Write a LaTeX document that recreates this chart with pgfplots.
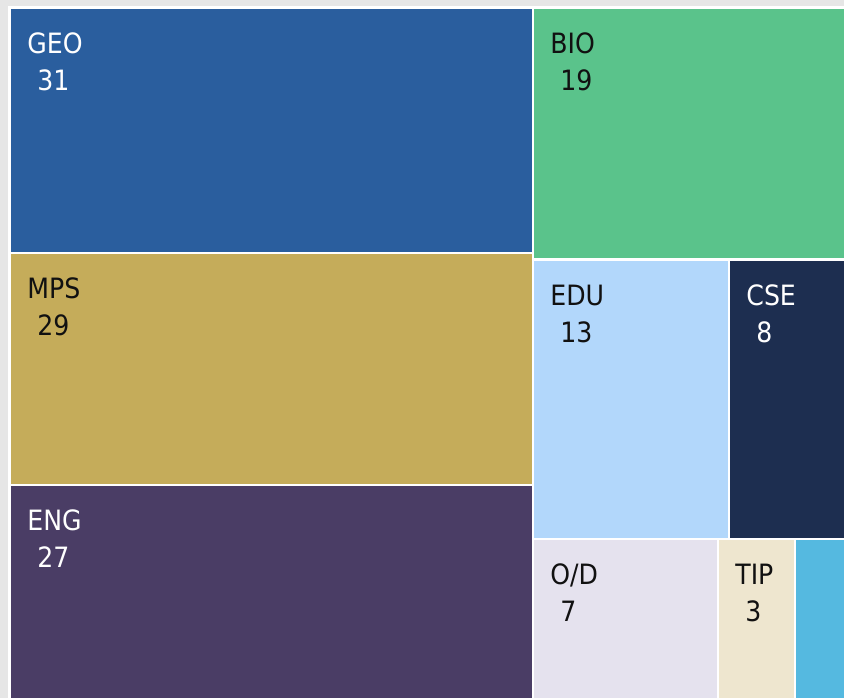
\documentclass[border=0pt]{standalone}
\usepackage{pgfplots}
\pgfplotsset{compat=1.18}
\usepackage{fontspec}
\setmainfont{DejaVu Sans Condensed}
\definecolor{bg}{HTML}{E6E6E6}
\definecolor{cGEO}{HTML}{2A5E9E}
\definecolor{cMPS}{HTML}{C5AC5A}
\definecolor{cENG}{HTML}{4A3D65}
\definecolor{cBIO}{HTML}{5AC38B}
\definecolor{cEDU}{HTML}{B2D7FB}
\definecolor{cCSE}{HTML}{1D2E50}
\definecolor{cOD}{HTML}{E5E2EE}
\definecolor{cTIP}{HTML}{EEE6CF}
\definecolor{cOTH}{HTML}{55B9E0}
\definecolor{txt}{HTML}{111111}
% rectangle: x0,y0,x1,y1 (pixel units of the treemap), colour
\newcommand{\rect}[5]{\addplot[fill=#5, draw=none] coordinates {(#1,#2) (#3,#2) (#3,#4) (#1,#4)} -- cycle;}
% label: x0, y0 of tile, name, value, text colour
\newcommand{\tlabel}[5]{%
  \node[anchor=base west, inner sep=0pt, text=#5, font=\fontsize{14}{16}\selectfont] at (axis cs:#1+16,#2+44) {#3};
  \node[anchor=base west, inner sep=0pt, text=#5, font=\fontsize{14}{16}\selectfont] at (axis cs:#1+26,#2+81) {#4};}
\begin{document}
\begin{tikzpicture}
\begin{axis}[width=422pt, height=349pt, scale only axis,
  xmin=0, xmax=844, ymin=0, ymax=698, y dir=reverse,
  hide axis, clip=true]
\rect{0}{0}{844}{698}{bg}
\rect{8}{6}{844}{698}{white}
\rect{11}{9}{532}{252}{cGEO}
\rect{11}{254}{532}{484}{cMPS}
\rect{11}{486}{532}{698}{cENG}
\rect{534}{9}{844}{258}{cBIO}
\rect{534}{261}{728}{538}{cEDU}
\rect{730}{261}{844}{538}{cCSE}
\rect{534}{540}{717}{698}{cOD}
\rect{719}{540}{794}{698}{cTIP}
\rect{796}{540}{844}{698}{cOTH}
\tlabel{11}{9}{GEO}{31}{white}
\tlabel{11}{254}{MPS}{29}{txt}
\tlabel{11}{486}{ENG}{27}{white}
\tlabel{534}{9}{BIO}{19}{txt}
\tlabel{534}{261}{EDU}{13}{txt}
\tlabel{730}{261}{CSE}{8}{white}
\tlabel{534}{540}{O/D}{7}{txt}
\tlabel{719}{540}{TIP}{3}{txt}
\end{axis}
\end{tikzpicture}
\end{document}
